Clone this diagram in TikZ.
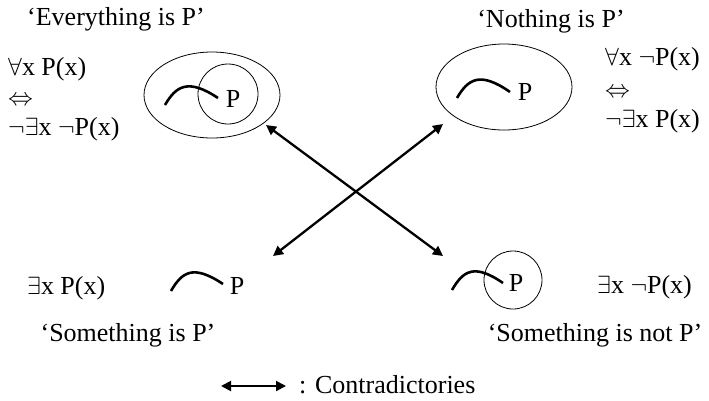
\documentclass[tikz,border=0pt]{standalone}
\usepackage{fontspec}
\setmainfont{Liberation Serif}
\usetikzlibrary{arrows.meta,shapes.geometric}

\begin{document}
\begin{tikzpicture}[x=1pt,y=-1pt,
  every node/.style={font=\fontsize{26}{30}\selectfont, inner sep=0pt},
  ring/.style={draw, line width=0.8pt, ellipse, minimum width=136pt, minimum height=86pt},
  pring/.style={draw, line width=0.8pt, circle, minimum size=58pt},
  hump/.style={line width=2.6pt},
  contra/.style={line width=2.3pt, {Triangle[length=10pt,width=10pt]}-{Triangle[length=10pt,width=10pt]}}]
\useasboundingbox (0,0) rectangle (709,400);

% top left: everything is P
\node[anchor=base] (allname) at (116,25) {‘Everything is P’};
\node[anchor=base west] (allA) at (8,75) {$\forall$x P(x)};
\node[anchor=base west] (allB) at (8,105) {$\Leftrightarrow$};
\node[anchor=base west] (allC) at (8,135) {$\neg\exists$x $\neg$P(x)};
\node[ring] (all) at (212,95) {};
\node[pring, minimum size=60pt] (allP) at (228,94) {};
\draw[hump] (165,105) .. controls (176,86) and (188,78) .. (218,98);
\node (allPtxt) at (233,99) {P};

% top right: nothing is P
\node[anchor=base] (nonename) at (551,27) {‘Nothing is P’};
\node[anchor=base west] (noneA) at (605,65) {$\forall$x $\neg$P(x)};
\node[anchor=base west] (noneB) at (605,97) {$\Leftrightarrow$};
\node[anchor=base west] (noneC) at (605,127) {$\neg\exists$x P(x)};
\node[ring] (none) at (504,87) {};
\draw[hump] (457,98) .. controls (468,79) and (480,71) .. (510,92);
\node (nonePtxt) at (525,92) {P};

% bottom left: something is P
\node[anchor=base west] (someA) at (27,294) {$\exists$x P(x)};
\draw[hump] (171,291) .. controls (182,272) and (193,264) .. (223,284);
\node (somePtxt) at (237,286) {P};
\node[anchor=base] (somename) at (128,341) {‘Something is P’};

% bottom right: something is not P
\node[pring] (notP) at (513,280) {};
\draw[hump] (452,290) .. controls (463,271) and (474,263) .. (503,283);
\node (notPtxt) at (516,283) {P};
\node[anchor=base west] (notA) at (597,293) {$\exists$x $\neg$P(x)};
\node[anchor=base] (notname) at (595,341) {‘Something is not P’};

% contradictories
\coordinate (allTip) at (266,125);
\coordinate (noneTip) at (443,124);
\coordinate (someTip) at (273,256);
\coordinate (notTip) at (443,256);
\draw[contra] (allTip) -- (notTip);
\draw[contra] (noneTip) -- (someTip);

% legend
\coordinate (keyL) at (221,386);
\coordinate (keyR) at (286,386);
\draw[contra, line width=2pt] (keyL) -- (keyR);
\node[anchor=base west] (keytxt) at (299,393) {: Contradictories};
\end{tikzpicture}
\end{document}
